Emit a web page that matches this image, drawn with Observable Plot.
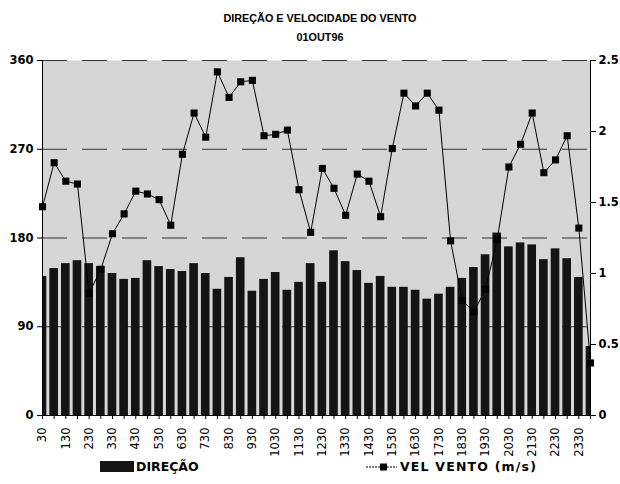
<!DOCTYPE html>
<html><head><meta charset="utf-8">
<script src="https://cdn.jsdelivr.net/npm/d3@7"></script>
<script src="https://cdn.jsdelivr.net/npm/@observablehq/plot@0.6"></script>
<style>
body{margin:0;background:#fff;font-family:"Liberation Sans",Arial,sans-serif;}
#wrap{position:relative;width:620px;height:484px;overflow:hidden;}
#title{position:absolute;top:9px;left:10px;width:620px;text-align:center;font-weight:bold;font-size:10.8px;line-height:19px;color:#000;}
#chart{position:absolute;top:50px;left:0;}
.leg{position:absolute;top:459px;font-family:"DejaVu Sans",sans-serif;font-weight:bold;font-size:12.5px;color:#000;display:flex;align-items:center;z-index:2;}
.sw{display:inline-block;width:34px;height:11px;background:#151515;margin-right:2px;}
</style></head>
<body><div id="wrap">
<div id="title">DIREÇÃO E VELOCIDADE DO VENTO<br>01OUT96</div>
<div id="chart"></div>
<div class="leg" style="left:100px"><span class="sw"></span>DIREÇÃO</div>
<div class="leg" style="left:366px;letter-spacing:1.2px"><svg width="31" height="12" style="margin-right:3px"><line x1="0" y1="6" x2="31" y2="6" stroke="#000" stroke-width="1" stroke-dasharray="2,1"/><rect x="14" y="2.5" width="7" height="7" fill="#000"/></svg>VEL VENTO (m/s)</div>
</div>
<script>
const categories = ["30","100","130","200","230","300","330","400","430","500","530","600","630","700","730","800","830","900","930","1000","1030","1100","1130","1200","1230","1300","1330","1400","1430","1500","1530","1600","1630","1700","1730","1800","1830","1900","1930","2000","2030","2100","2130","2200","2230","2300","2330","2400"];
const direcao = [141,149,154,157,154,151,144,138,139,157,151,148,146,154,144,128,140,160,126,138,145,127,135,154,135,167,156,147,134,141,130,130,127,118,123,130,139,150,163,185,171,175,173,158,169,159,140,70];
const velVento = [1.47,1.78,1.65,1.63,0.86,1.03,1.28,1.42,1.58,1.56,1.52,1.34,1.84,2.13,1.96,2.42,2.24,2.35,2.36,1.97,1.98,2.01,1.59,1.29,1.74,1.60,1.41,1.70,1.65,1.40,1.88,2.27,2.18,2.27,2.15,1.23,0.81,0.73,0.89,1.24,1.75,1.91,2.13,1.71,1.80,1.97,1.32,0.37];
const leftTicks = [0,90,180,270,360];
const rightTicks = [0,0.5,1,1.5,2,2.5];
const velMax = 2.5, dirMax = 360;
const k = dirMax / velMax;

const rows = categories.map((c, i) => ({i, cat: c, dir: direcao[i], vel: velVento[i]}));

const svg = Plot.plot({
  width: 620, height: 420,
  marginLeft: 42, marginRight: 30, marginTop: 10, marginBottom: 55,
  style: {fontFamily: "'DejaVu Sans', sans-serif", fontSize: "11.5px", color: "#000", background: "transparent"},
  x: {type: "linear", domain: [0, categories.length - 1]},
  y: {domain: [0, dirMax]},
  marks: [
    Plot.frame({fill: "url(#stip)", stroke: null}),
    Plot.ruleY(leftTicks.filter(d => d > 0), {stroke: "#333", strokeWidth: 1, strokeDasharray: "25,15"}),
    Plot.rectY(rows, {x1: d => d.i - 0.37, x2: d => d.i + 0.37, y1: 0, y2: "dir", fill: "#141414", clip: true}),
    Plot.line(rows, {x: "i", y: d => d.vel * k, stroke: "#000", strokeWidth: 1}),
    Plot.dot(rows, {x: "i", y: d => d.vel * k, symbol: "square", r: 4, fill: "#000", stroke: null}),
    Plot.ruleX([0, categories.length - 1], {stroke: "#000", strokeWidth: 1}),
    Plot.ruleY([0], {stroke: "#000", strokeWidth: 1}),
    Plot.axisY(leftTicks, {anchor: "left", label: null, tickSize: 5, tickPadding: 4, fontWeight: "bold"}),
    Plot.axisY(rightTicks.map(v => v * k), {anchor: "right", label: null, tickSize: 5, tickPadding: 3, fontWeight: "bold", tickFormat: d => String(+(d / k).toFixed(2))}),
    Plot.axisX(d3.range(categories.length), {anchor: "bottom", label: null, tickSize: 4, tickPadding: 8, tickRotate: -90, tickFormat: i => i % 2 === 0 ? categories[i] : ""})
  ]
});

const ns = "http://www.w3.org/2000/svg";
const defs = document.createElementNS(ns, "defs");
const pat = document.createElementNS(ns, "pattern");
pat.setAttribute("id", "stip"); pat.setAttribute("width", "2"); pat.setAttribute("height", "2");
pat.setAttribute("patternUnits", "userSpaceOnUse");
const r1 = document.createElementNS(ns, "rect");
r1.setAttribute("width", "2"); r1.setAttribute("height", "2"); r1.setAttribute("fill", "#efefef");
const r2 = document.createElementNS(ns, "rect");
r2.setAttribute("width", "1"); r2.setAttribute("height", "1"); r2.setAttribute("fill", "#8a8a8a");
pat.appendChild(r1); pat.appendChild(r2); defs.appendChild(pat);
svg.insertBefore(defs, svg.firstChild);
document.getElementById("chart").appendChild(svg);
</script>
</body></html>
